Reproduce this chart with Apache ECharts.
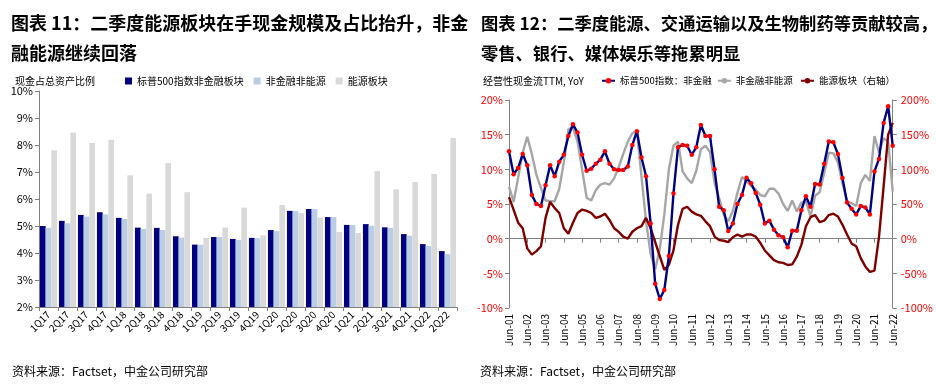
<!DOCTYPE html>
<html>
<head>
<meta charset="utf-8">
<script src="https://cdn.jsdelivr.net/npm/echarts@6/dist/echarts.min.js"></script>
<style>
html,body{margin:0;padding:0;background:#fff;}
#c{width:936px;height:386px;}
</style>
</head>
<body>
<div id="c"></div>
<script>
// ---- Left chart data (cash as % of total assets) ----
const quarters = ['1Q17','2Q17','3Q17','4Q17','1Q18','2Q18','3Q18','4Q18','1Q19','2Q19','3Q19','4Q19','1Q20','2Q20','3Q20','4Q20','1Q21','2Q21','3Q21','4Q21','1Q22','2Q22'];
const sp500NonFin = [5.00,5.19,5.41,5.51,5.30,4.94,4.93,4.62,4.31,4.59,4.52,4.56,4.85,5.56,5.63,5.33,5.04,5.07,4.95,4.70,4.33,4.07];
const nonFinNonEnergy = [4.93,5.10,5.35,5.43,5.26,4.89,4.85,4.57,4.30,4.59,4.48,4.55,4.81,5.55,5.63,5.33,5.04,5.01,4.93,4.64,4.26,3.96];
const energySector = [7.81,8.46,8.07,8.19,6.88,6.20,7.33,6.25,4.56,4.94,5.68,4.65,5.78,5.48,5.31,4.78,4.74,7.04,6.36,6.63,6.93,8.26];
const leftTicks = [2,3,4,5,6,7,8,9,10];

// ---- Right chart data (operating cash flow TTM YoY) ----
const years = ['01','02','03','04','05','06','07','08','09','10','11','12','13','14','15','16','17','18','19','20','21','22'];
const qMonths = ['Jun','Sep','Dec','Mar'];
const dates = [];
for (let y = 0; y < years.length; y++) {
  for (let q = 0; q < 4; q++) {
    if (y === years.length - 1 && q > 0) break;
    const yy = q === 3 ? years[y + 1] : years[y];
    dates.push(qMonths[q] + '-' + yy);
  }
}
const ocfSp500NonFin = [12.6,9.3,10.2,12.2,10.6,6.3,5.0,4.7,7.7,10.6,
  9.0,11.1,12.1,14.8,16.5,15.3,12.1,9.8,10.1,10.8,
  11.4,12.6,10.8,10.0,9.9,9.9,10.4,13.5,15.5,11.7,
  9.0,2.2,-6.5,-8.7,-7.4,-2.5,6.5,13.2,13.5,13.4,
  12.1,13.2,16.4,14.8,14.8,10.0,4.6,4.1,1.1,2.2,
  5.0,6.3,8.8,8.0,6.6,4.9,2.2,2.6,1.3,0.5,
  0.2,-1.25,1.15,1.15,4.1,6.1,4.6,7.9,7.8,10.8,
  14.0,13.9,12.2,8.75,5.2,4.3,3.5,4.7,4.5,3.5,
  9.7,11.5,16.7,19.1,13.4];
const ocfNonFinNonEnergy = [7.5,5.3,8.8,12.4,14.7,12.2,9.2,7.3,5.5,5.4,
  5.4,7.2,11.0,15.8,16.0,14.0,10.0,5.9,5.5,7.0,
  7.8,8.0,7.8,8.7,10.3,12.2,14.0,15.2,15.5,9.0,
  2.5,-2.2,-4.4,-1.5,3.5,10.0,13.4,14.0,9.7,8.7,
  8.0,9.8,12.9,13.4,12.5,8.0,5.8,3.5,2.5,4.0,
  6.6,8.9,8.3,7.6,7.1,6.3,6.1,7.2,7.2,6.5,
  5.0,4.0,5.5,3.9,5.2,5.4,3.2,6.2,6.7,9.5,
  12.4,12.3,11.0,8.0,5.4,5.1,4.7,8.0,9.2,8.3,
  14.8,12.4,14.5,14.0,6.8];
const ocfEnergy = [60,42,23,15,-14,-23,-18,-11,30,53,
  44,37,15,7,23,37,42,40,37,30,
  32,36,27,15,10,3,0,10,15,18,
  30,15,-5,-25,-45,-38,-17,20,43,46,
  39,35,33,25,18,3,-2,-3,-5,2,
  6,3,6,6,3,-6,-17,-24,-31,-34,
  -35,-38,-37,-26,-9,18,31,34,24,26,
  34,36,32,20,6,-7,-11,-28,-40,-48,
  -46,3,75,150,167];
const rightTicksL = [-10,-5,0,5,10,15,20];
const rightTicksR = [-100,-50,0,50,100,150,200];

const FONT = '"Noto Sans CJK SC","Liberation Sans",sans-serif';
const chart = echarts.init(document.getElementById('c'), null, {renderer:'canvas'});

const axisGray = '#808080';
chart.setOption({
  animation: false,
  backgroundColor: '#fff',
  textStyle: {fontFamily: FONT, color: '#000'},
  title: [
    {text: '图表 11：二季度能源板块在手现金规模及占比抬升，非金\n融能源继续回落', left: 6, top: 3,
     textStyle: {fontSize: 18, fontWeight: 'bold', lineHeight: 30, color: '#000', fontFamily: FONT}},
    {text: '图表 12：二季度能源、交通运输以及生物制药等贡献较高，\n零售、银行、媒体娱乐等拖累明显', left: 476, top: 3,
     textStyle: {fontSize: 17.3, fontWeight: 'bold', lineHeight: 30, color: '#000', fontFamily: FONT}},
    {text: '现金占总资产比例', left: 10, top: 71, textStyle: {fontSize: 10, fontWeight: 'normal', color: '#000', fontFamily: FONT}},
    {text: '经营性现金流TTM, YoY', left: 478, top: 71, textStyle: {fontSize: 10, fontWeight: 'normal', color: '#000', fontFamily: FONT}},
    {text: '资料来源：Factset，中金公司研究部', left: 7, top: 360, textStyle: {fontSize: 12, fontWeight: 'normal', color: '#000', fontFamily: FONT}},
    {text: '资料来源：Factset，中金公司研究部', left: 475, top: 360, textStyle: {fontSize: 12, fontWeight: 'normal', color: '#000', fontFamily: FONT}}
  ],
  legend: [
    {data: ['标普500指数非金融板块','非金融非能源','能源板块'], left: 120, top: 71, icon: 'rect',
     itemWidth: 7, itemHeight: 7, itemGap: 10, textStyle: {fontSize: 10, color: '#000', fontFamily: FONT}},
    {data: ['标普500指数：非金融','非金融非能源 ','能源板块（右轴）'], left: 596, top: 71,
     itemWidth: 13, itemHeight: 7, itemGap: 5, textStyle: {fontSize: 9.5, color: '#000', fontFamily: FONT}}
  ],
  grid: [
    {left: 39, top: 91, width: 418, height: 216},
    {left: 509, top: 100, width: 384, height: 208}
  ],
  xAxis: [
    {type: 'category', gridIndex: 0, data: quarters, boundaryGap: true,
     axisLine: {lineStyle: {color: axisGray, width: 1}},
     axisTick: {show: true, length: 4, lineStyle: {color: axisGray}},
     axisLabel: {rotate: 45, fontSize: 10, color: '#000', margin: 6, interval: 0, fontFamily: FONT}},
    {type: 'category', gridIndex: 1, data: dates, boundaryGap: false,
     axisLine: {show: false, onZero: false}, axisTick: {show: false},
     axisLabel: {rotate: 90, fontSize: 10, color: '#000', margin: 6, interval: 3, fontFamily: FONT}},
    {type: 'category', gridIndex: 1, data: dates, boundaryGap: false, position: 'bottom',
     axisLine: {show: true, onZero: true, lineStyle: {color: axisGray, width: 1}},
     axisTick: {show: true, interval: 3, length: 4, lineStyle: {color: axisGray}},
     axisLabel: {show: false}}
  ],
  yAxis: [
    {type: 'value', gridIndex: 0, min: leftTicks[0], max: leftTicks[leftTicks.length-1], interval: 1,
     axisLine: {show: true, lineStyle: {color: axisGray}}, axisTick: {show: true, length: 4, lineStyle: {color: axisGray}},
     splitLine: {show: false},
     axisLabel: {formatter: '{value}%', fontSize: 11, color: '#000', margin: 6, fontFamily: FONT}},
    {type: 'value', gridIndex: 1, min: rightTicksL[0], max: rightTicksL[rightTicksL.length-1], interval: 5,
     axisLine: {show: true, lineStyle: {color: axisGray}}, axisTick: {show: true, length: 4, lineStyle: {color: axisGray}},
     splitLine: {show: false},
     axisLabel: {formatter: '{value}%', fontSize: 11, color: '#ff0000', margin: 6, fontFamily: FONT}},
    {type: 'value', gridIndex: 1, position: 'right', min: rightTicksR[0], max: rightTicksR[rightTicksR.length-1], interval: 50,
     axisLine: {show: true, lineStyle: {color: axisGray}}, axisTick: {show: true, length: 4, lineStyle: {color: axisGray}},
     splitLine: {show: false},
     axisLabel: {formatter: '{value}%', fontSize: 11, color: '#ff0000', margin: 8, fontFamily: FONT}}
  ],
  series: [
    {name: '标普500指数非金融板块', type: 'bar', xAxisIndex: 0, yAxisIndex: 0, data: sp500NonFin,
     itemStyle: {color: '#000080'}, barGap: '0%', barCategoryGap: '10%'},
    {name: '非金融非能源', type: 'bar', xAxisIndex: 0, yAxisIndex: 0, data: nonFinNonEnergy,
     itemStyle: {color: '#b9cde5'}, barGap: '0%', barCategoryGap: '10%'},
    {name: '能源板块', type: 'bar', xAxisIndex: 0, yAxisIndex: 0, data: energySector,
     itemStyle: {color: '#d9d9d9'}, barGap: '0%', barCategoryGap: '10%'},
    {name: '非金融非能源 ', type: 'line', xAxisIndex: 1, yAxisIndex: 1, data: ocfNonFinNonEnergy,
     showSymbol: false, symbol: 'none', lineStyle: {color: '#a6a6a6', width: 2.4}, itemStyle: {color: '#a6a6a6'}},
    {name: '能源板块（右轴）', type: 'line', xAxisIndex: 1, yAxisIndex: 2, data: ocfEnergy,
     showSymbol: false, symbol: 'none', lineStyle: {color: '#800000', width: 2.4}, itemStyle: {color: '#800000'}},
    {name: '标普500指数：非金融', type: 'line', xAxisIndex: 1, yAxisIndex: 1, data: ocfSp500NonFin,
     symbol: 'circle', symbolSize: 4.5, showSymbol: true, showAllSymbol: true,
     lineStyle: {color: '#000080', width: 2.4}, itemStyle: {color: '#ff0000', borderWidth: 0}}
  ]
});
</script>
</body>
</html>
